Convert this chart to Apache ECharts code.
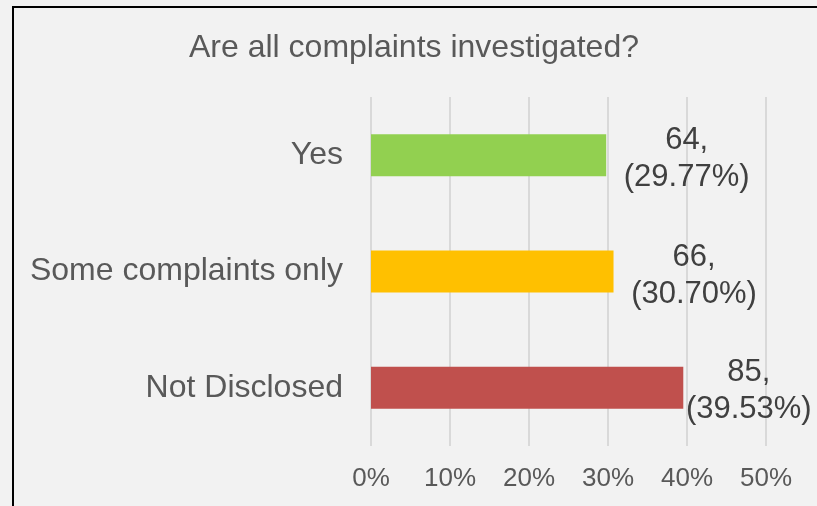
<!DOCTYPE html>
<html>
<head>
<meta charset="utf-8">
<script src="https://cdn.jsdelivr.net/npm/echarts@6/dist/echarts.min.js"></script>
<style>
  html, body { margin: 0; padding: 0; background: #f2f2f2; }
  #chart { width: 817px; height: 506px; }
</style>
</head>
<body>
<div id="chart"></div>
<script>
// Survey answers, top to bottom
const categories = ['Yes', 'Some complaints only', 'Not Disclosed'];
// Number of respondents per answer
const counts = [64, 66, 85];
// Share of all respondents, in percent
const shares = [29.77, 30.70, 39.53];
// Percent axis ticks
const xTicks = [0, 10, 20, 30, 40, 50];

const barColors = ['#92d050', '#ffc000', '#c0504d'];
// Shift of each value label from its bar end (the last one is squeezed by the frame)
const labelShift = [[80.5, 4], [80.5, 4], [65.5, 3]];

const FONT = '"Liberation Sans", Arial, sans-serif';

const chart = echarts.init(document.getElementById('chart'), null, { renderer: 'canvas' });

chart.setOption({
  backgroundColor: '#f2f2f2',
  animation: false,
  title: {
    text: 'Are all complaints investigated?',
    left: 414,
    textAlign: 'center',
    top: 32,
    padding: 0,
    textStyle: { fontFamily: FONT, fontSize: 32, fontWeight: 'normal', color: '#595959' }
  },
  graphic: [{
    type: 'rect',
    shape: { x: 13, y: 7, width: 900, height: 600 },
    style: { fill: 'none', stroke: '#000000', lineWidth: 2 },
    silent: true
  }],
  grid: { left: 371, right: 51, top: 97, bottom: 60, containLabel: false },
  xAxis: {
    type: 'value',
    min: xTicks[0],
    max: xTicks[xTicks.length - 1],
    interval: xTicks[1] - xTicks[0],
    axisLine: { show: false },
    axisTick: { show: false },
    splitLine: { show: true, lineStyle: { color: '#d9d9d9', width: 2 } },
    axisLabel: {
      formatter: '{value}%',
      margin: 20,
      fontFamily: FONT,
      fontSize: 26,
      color: '#595959'
    }
  },
  yAxis: {
    type: 'category',
    data: categories,
    inverse: true,
    axisLine: { show: false },
    axisTick: { show: false },
    splitLine: { show: false },
    axisLabel: {
      margin: 28,
      fontFamily: FONT,
      fontSize: 32,
      color: '#595959'
    }
  },
  series: [{
    type: 'bar',
    barWidth: 42,
    data: shares.map((v, i) => ({
      value: v,
      itemStyle: { color: barColors[i] },
      label: { offset: labelShift[i] }
    })),
    label: {
      show: true,
      position: 'right',
      distance: 0,
      align: 'center',
      verticalAlign: 'middle',
      fontFamily: FONT,
      fontSize: 31,
      lineHeight: 37,
      color: '#404040',
      formatter: p => counts[p.dataIndex] + ',\n(' + shares[p.dataIndex].toFixed(2) + '%)'
    }
  }]
});
</script>
</body>
</html>
